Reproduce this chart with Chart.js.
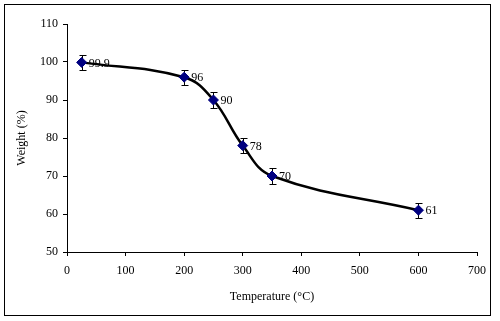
<!DOCTYPE html>
<html>
<head>
<meta charset="utf-8">
<script src="https://cdn.jsdelivr.net/npm/chart.js@4.4.0/dist/chart.umd.min.js"></script>
<style>
  html, body { margin: 0; padding: 0; background: #fff; }
  #wrap { width: 500px; height: 321px; position: relative; }
</style>
</head>
<body>
<div id="wrap"><canvas id="tga-chart" width="500" height="321"></canvas></div>
<script>
// TGA data
const temps = [25, 200, 250, 300, 350, 600];
const weights = [99.9, 96, 90, 78, 70, 61];
const errors = [2, 2, 2, 2, 2, 2];
const pointLabels = ['99.9', '96', '90', '78', '70', '61'];

const serif = "'Liberation Serif', 'Times New Roman', serif";

// outer frame around the whole chart
const framePlugin = {
    id: 'frame',
    beforeDraw(chart) {
        const ctx = chart.ctx;
        ctx.save();
        ctx.fillStyle = '#fff';
        ctx.fillRect(0, 0, chart.width, chart.height);
        ctx.strokeStyle = '#000';
        ctx.lineWidth = 1;
        ctx.strokeRect(4.5, 4.5, 486, 311);
        ctx.restore();
    }
};

// vertical error bars with small caps
const errorBarPlugin = {
    id: 'errorBars',
    beforeDatasetsDraw(chart) {
        const ctx = chart.ctx;
        const x = chart.scales.x;
        const y = chart.scales.y;
        ctx.save();
        ctx.strokeStyle = '#000';
        ctx.lineWidth = 1;
        temps.forEach((t, i) => {
            const px = Math.round(x.getPixelForValue(t)) + 0.5;
            const top = Math.round(y.getPixelForValue(weights[i] + errors[i])) + 0.5;
            const bot = Math.round(y.getPixelForValue(weights[i] - errors[i])) + 0.5;
            ctx.beginPath();
            ctx.moveTo(px, top);
            ctx.lineTo(px, bot);
            ctx.moveTo(px - 3, top);
            ctx.lineTo(px + 4, top);
            ctx.moveTo(px - 3, bot);
            ctx.lineTo(px + 4, bot);
            ctx.stroke();
        });
        ctx.restore();
    }
};

// value labels right of each point
const valueLabelPlugin = {
    id: 'valueLabels',
    afterDatasetsDraw(chart) {
        const ctx = chart.ctx;
        const meta = chart.getDatasetMeta(0);
        ctx.save();
        ctx.fillStyle = '#000';
        ctx.font = '12px ' + serif;
        ctx.textAlign = 'left';
        ctx.textBaseline = 'middle';
        meta.data.forEach((pt, i) => {
            ctx.fillText(pointLabels[i], pt.x + 7, pt.y + 1);
        });
        ctx.restore();
    }
};

const ctx = document.getElementById('tga-chart').getContext('2d');
new Chart(ctx, {
    type: 'scatter',
    data: {
        datasets: [{
            label: 'Weight',
            data: temps.map((t, i) => ({ x: t, y: weights[i] })),
            showLine: true,
            tension: 0.4,
            borderColor: '#000',
            borderWidth: 2.5,
            pointStyle: 'rectRot',
            pointRadius: 5,
            pointBackgroundColor: '#000080',
            pointBorderColor: '#000080',
            pointBorderWidth: 1
        }]
    },
    options: {
        responsive: false,
        animation: false,
        layout: {
            padding: { top: 24, right: 23, left: 0, bottom: 0 }
        },
        plugins: {
            legend: { display: false },
            tooltip: { enabled: false }
        },
        scales: {
            x: {
                type: 'linear',
                min: 0,
                max: 700,
                afterFit(scale) { scale.height = 69; },
                ticks: {
                    stepSize: 100,
                    padding: 8,
                    color: '#000',
                    font: { family: serif, size: 12 }
                },
                grid: {
                    drawOnChartArea: false,
                    drawTicks: true,
                    tickLength: 4,
                    color: '#000'
                },
                border: { display: true, color: '#000', width: 1 },
                title: {
                    display: true,
                    text: 'Temperature (°C)',
                    color: '#000',
                    font: { family: serif, size: 12 },
                    padding: { top: 0, bottom: 17 }
                }
            },
            y: {
                min: 50,
                max: 110,
                afterFit(scale) { scale.width = 67; },
                ticks: {
                    stepSize: 10,
                    padding: 5,
                    color: '#000',
                    font: { family: serif, size: 12 }
                },
                grid: {
                    drawOnChartArea: false,
                    drawTicks: true,
                    tickLength: 4,
                    color: '#000'
                },
                border: { display: true, color: '#000', width: 1 },
                title: {
                    display: true,
                    text: 'Weight (%)',
                    color: '#000',
                    font: { family: serif, size: 12 },
                    padding: { top: 15, bottom: 0 }
                }
            }
        }
    },
    plugins: [framePlugin, errorBarPlugin, valueLabelPlugin]
});
</script>
</body>
</html>
